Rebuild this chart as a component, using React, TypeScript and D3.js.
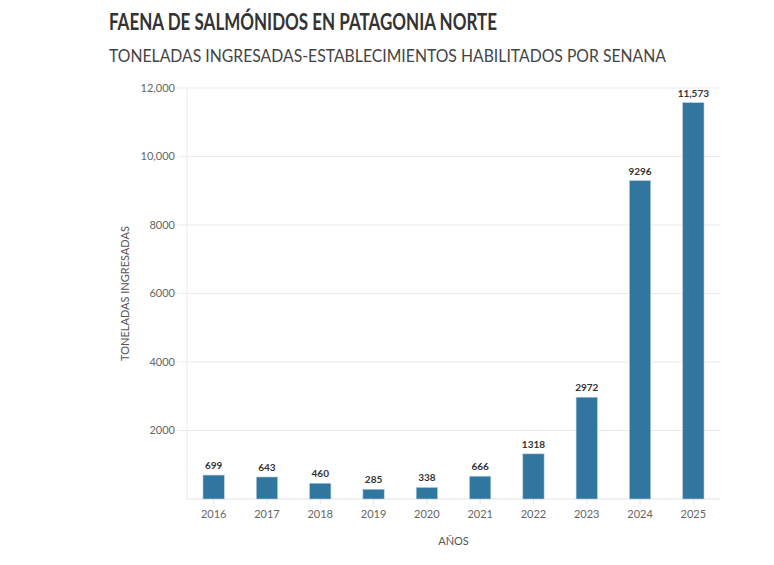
import * as d3 from "d3";

const years = ["2016", "2017", "2018", "2019", "2020", "2021", "2022", "2023", "2024", "2025"];
const toneladas = [699, 643, 460, 285, 338, 666, 1318, 2972, 9296, 11573];
const yTicks = [2000, 4000, 6000, 8000, 10000, 12000];

const W = 774;
const H = 565;
const MARGIN = { TOP: 88, BOTTOM: 66, LEFT: 187, RIGHT: 54 };
const FONT = "'Source Sans Pro', Lato, 'Noto Sans', sans-serif";

// Flourish-style formatting: commas only from 5 digits up
const fmt = (v: number) => (v >= 10000 ? d3.format(",")(v) : String(v));

const App = () => {
  const innerW = W - MARGIN.LEFT - MARGIN.RIGHT;
  const innerH = H - MARGIN.TOP - MARGIN.BOTTOM;

  const x = d3.scaleBand<string>().domain(years).range([0, innerW]).paddingInner(0.6).paddingOuter(0.3);
  const y = d3.scaleLinear().domain([0, 12000]).range([innerH, 0]);

  const rows = years.map((yr, i) => ({ year: yr, value: toneladas[i] }));

  return (
    <svg
      width={W}
      height={H}
      style={{ position: "absolute", left: 0, top: 0, background: "#fff" }}
      fontFamily={FONT}
    >
      <text x={109} y={30} fontSize={22.5} fontWeight={700} fill="#333" textLength={388} lengthAdjust="spacingAndGlyphs">
        FAENA DE SALMÓNIDOS EN PATAGONIA NORTE
      </text>
      <text x={109} y={62} fontSize={16.5} fill="#444" textLength={557} lengthAdjust="spacingAndGlyphs">
        TONELADAS INGRESADAS-ESTABLECIMIENTOS HABILITADOS POR SENANA
      </text>

      <g transform={`translate(${MARGIN.LEFT},${MARGIN.TOP})`}>
        {/* grid + y ticks */}
        {yTicks.map((t) => (
          <g key={t} transform={`translate(0,${y(t)})`}>
            <line x1={-10} x2={innerW} stroke="#ebebeb" strokeWidth={1} />
            <text x={-12} dy="0.35em" textAnchor="end" fontSize={11} fill="#666">
              {fmt(t)}
            </text>
          </g>
        ))}
        <line x1={0} x2={0} y1={0} y2={innerH} stroke="#ebebeb" />
        <line x1={0} x2={innerW} y1={innerH} y2={innerH} stroke="#e3e3e3" />

        {/* bars */}
        {rows.map((d) => (
          <g key={d.year}>
            <rect
              x={x(d.year)}
              y={y(d.value)}
              width={x.bandwidth()}
              height={innerH - y(d.value)}
              fill="#30769f"
              stroke="#b8d0e0"
              strokeWidth={0.6}
            />
            <text
              x={(x(d.year) ?? 0) + x.bandwidth() / 2}
              y={y(d.value) - 6}
              textAnchor="middle"
              fontSize={10}
              fontWeight={700}
              fill="#333"
            >
              {fmt(d.value)}
            </text>
            <line
              x1={(x(d.year) ?? 0) + x.bandwidth() / 2}
              x2={(x(d.year) ?? 0) + x.bandwidth() / 2}
              y1={innerH}
              y2={innerH + 5}
              stroke="#e3e3e3"
            />
            <text
              x={(x(d.year) ?? 0) + x.bandwidth() / 2}
              y={innerH + 19}
              textAnchor="middle"
              fontSize={11}
              fill="#666"
            >
              {d.year}
            </text>
          </g>
        ))}

        <text x={innerW / 2} y={innerH + 46} textAnchor="middle" fontSize={11} fill="#555">
          AÑOS
        </text>
        <text
          transform={`translate(-58,${innerH / 2}) rotate(-90)`}
          textAnchor="middle"
          fontSize={11}
          fill="#555"
        >
          TONELADAS INGRESADAS
        </text>
      </g>
    </svg>
  );
};

export default App;
